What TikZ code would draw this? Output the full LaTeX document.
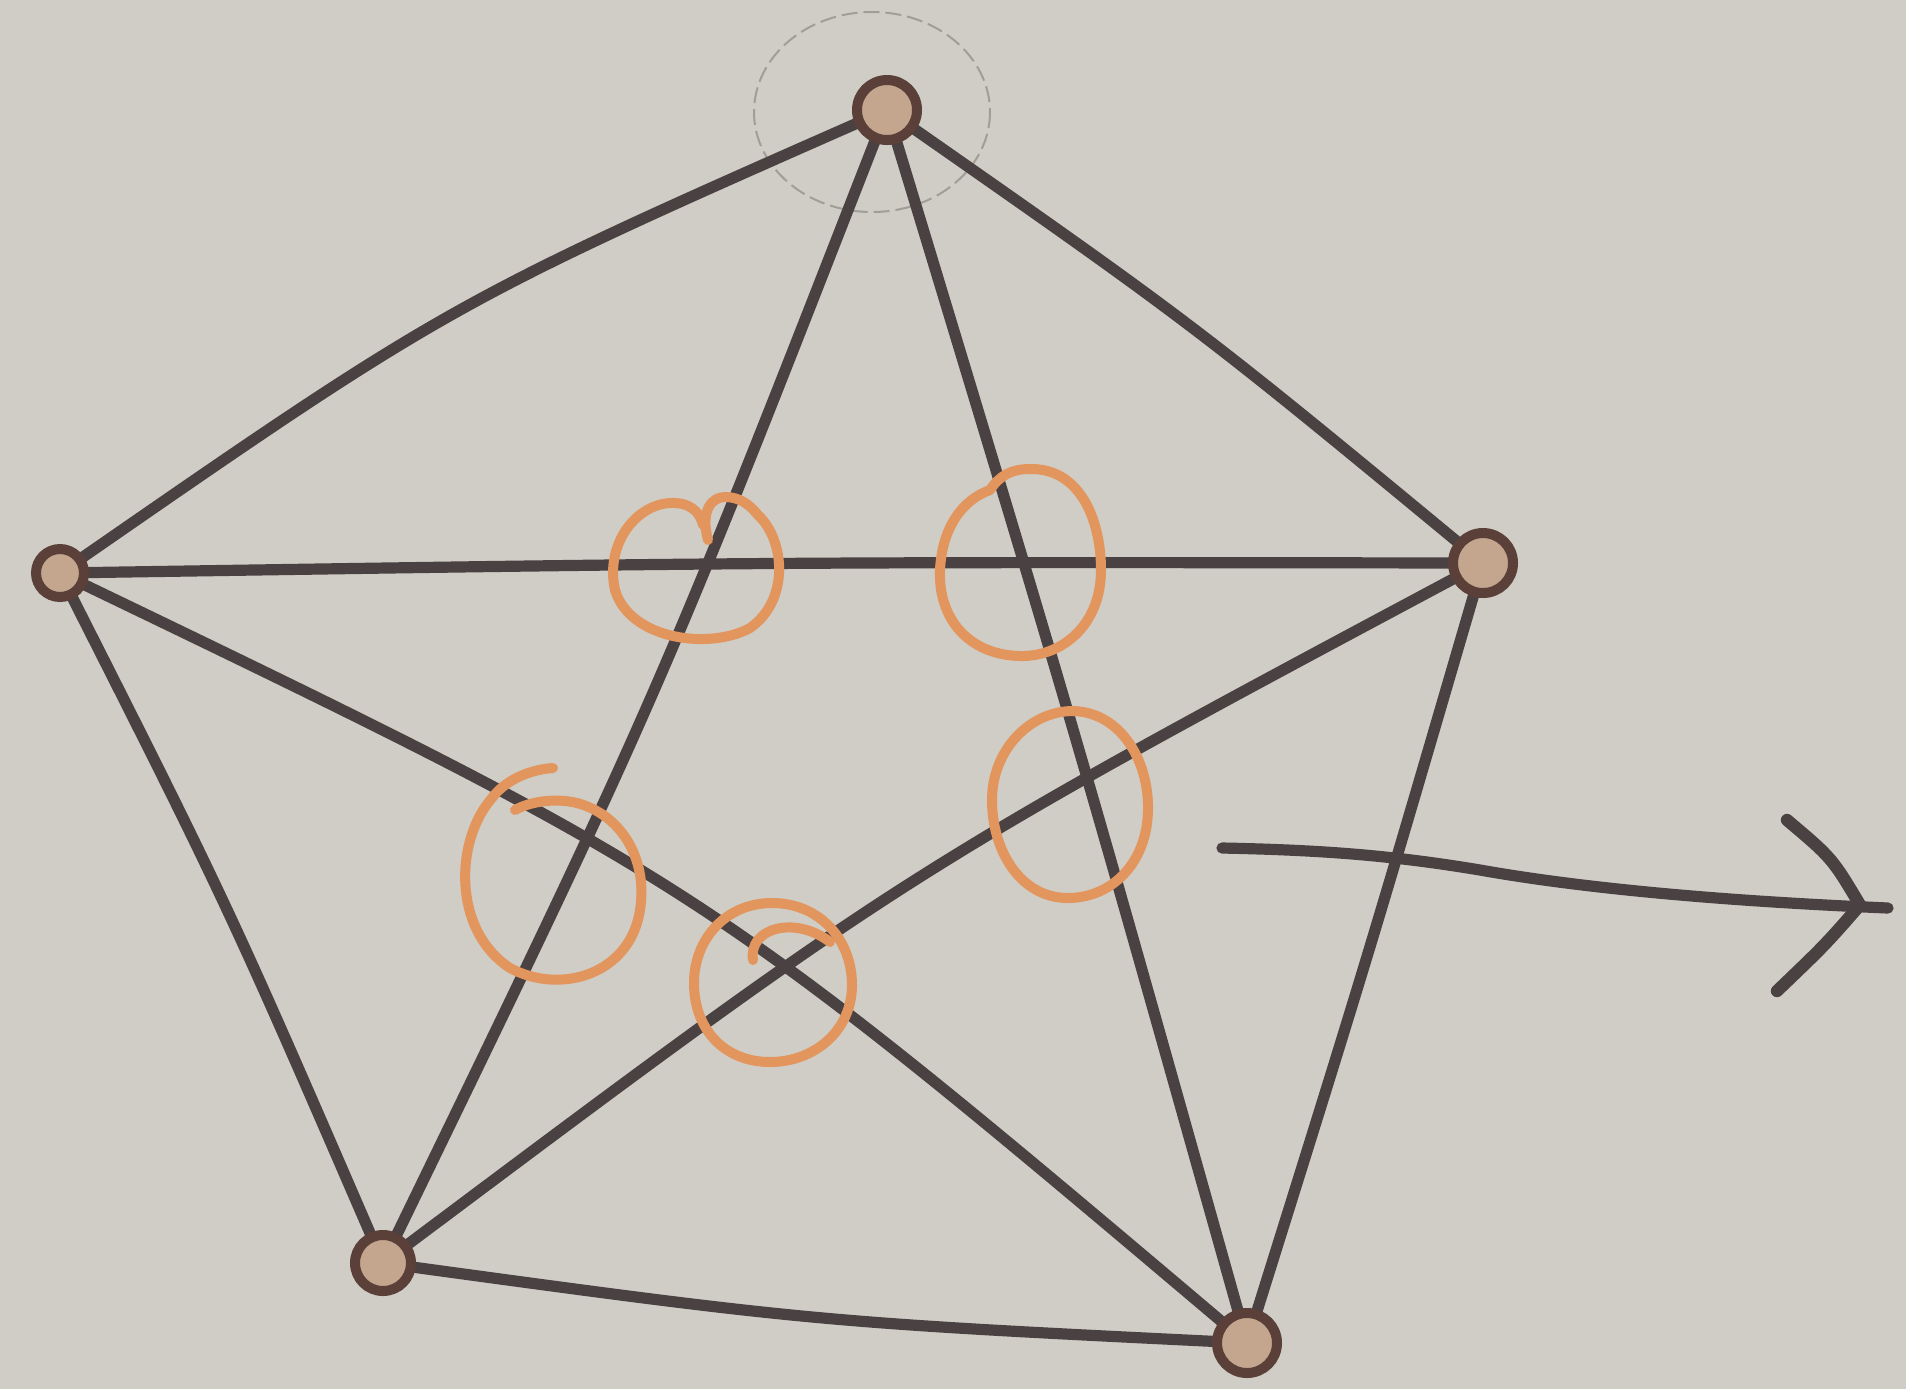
\documentclass[tikz,border=0pt]{standalone}
\definecolor{paper}{HTML}{CFCDC5}
\definecolor{ink}{HTML}{4A4143}
\definecolor{inkb}{HTML}{5A4038}
\definecolor{orng}{HTML}{E3955E}
\definecolor{pencil}{HTML}{A09E97}
\tikzset{
  edge/.style={draw=ink, line width=5.6pt, line cap=round, line join=round},
  vert/.style={circle, draw=inkb, line width=5pt, fill=paper!60!orng!85!inkb, inner sep=0pt},
  ring/.style={draw=orng, line width=5pt, line cap=round, line join=round},
}
\begin{document}
\begin{tikzpicture}[x=0.5pt,y=-0.5pt]
\fill[paper] (0,0) rectangle (1906,1389);
\useasboundingbox (0,0) rectangle (1906,1389);
% faint pencil circle round the top vertex
\draw[pencil, line width=1pt, dash pattern=on 8pt off 3pt] (872,112) ellipse [x radius=118, y radius=100];
% vertex positions
\coordinate (T) at (887,110);
\coordinate (L) at (60,573);
\coordinate (R) at (1483,563);
\coordinate (BL) at (383,1263);
\coordinate (BR) at (1247,1343);
% outer pentagon
\draw[edge] (T) .. controls (451,302) .. (L);
\draw[edge] (L) .. controls (228,905) .. (BL);
\draw[edge] (BL) .. controls (815,1322) .. (BR);
\draw[edge] (BR) .. controls (1370,950) .. (R);
\draw[edge] (R) .. controls (1195,325) .. (T);
% star
\draw[edge] (T) .. controls (658,697) .. (BL);
\draw[edge] (T) .. controls (1072,720) .. (BR);
\draw[edge] (L) .. controls (770,562) .. (R);
\draw[edge] (L) .. controls (702,882) .. (BR);
\draw[edge] (BL) .. controls (906,871) .. (R);
% orange rings at the inner crossings
\draw[ring] (708,540) .. controls (700,510) and (712,497) .. (725,497)
  .. controls (740,497) and (750,505) .. (758,515)
  .. controls (785,540) and (790,600) .. (750,628)
  .. controls (710,650) and (630,640) .. (615,590)
  .. controls (605,545) and (635,505) .. (670,503)
  .. controls (690,502) and (700,512) .. (703,525);
\draw[ring] (1030,469) .. controls (1080,468) and (1101,520) .. (1101,570)
  .. controls (1101,625) and (1062,657) .. (1020,656)
  .. controls (970,655) and (938,620) .. (940,570)
  .. controls (942,528) and (962,500) .. (990,490)
  .. controls (1000,475) and (1012,469) .. (1030,469);
\draw[ring] (1073,711) .. controls (1120,712) and (1149,760) .. (1148,810)
  .. controls (1147,865) and (1110,898) .. (1068,898)
  .. controls (1020,898) and (992,850) .. (992,800)
  .. controls (992,750) and (1030,711) .. (1073,711);
\draw[ring] (553,768) .. controls (525,770) and (503,783) .. (492,798)
  .. controls (455,840) and (452,930) .. (510,968)
  .. controls (560,995) and (630,975) .. (640,910)
  .. controls (648,860) and (622,815) .. (577,803)
  .. controls (552,797) and (527,803) .. (515,810);
\draw[ring] (772,903) .. controls (820,903) and (852,940) .. (852,985)
  .. controls (852,1030) and (815,1062) .. (770,1062)
  .. controls (725,1062) and (694,1030) .. (694,983)
  .. controls (694,940) and (725,903) .. (772,903);
\draw[ring] (753,960) .. controls (748,928) and (795,915) .. (830,942);
% vertices
\node[vert, minimum size=30pt] (nT) at (T) {};
\node[vert, minimum size=24pt] (nL) at (L) {};
\node[vert, minimum size=30pt] (nR) at (R) {};
\node[vert, minimum size=28pt] (nBL) at (BL) {};
\node[vert, minimum size=30pt] (nBR) at (BR) {};
% arrow
\coordinate (a0) at (1222,848);
\coordinate (a1) at (1888,908);
\coordinate (b0) at (1860,905);
\coordinate (b1) at (1787,820);
\coordinate (b2) at (1777,991);
\draw[edge] (a0) .. controls (1320,850) and (1390,855) .. (1480,870)
  .. controls (1570,886) and (1700,900) .. (a1);
\draw[edge, line width=6.2pt] (b1) .. controls (1832,858) .. (b0);
\draw[edge, line width=6.2pt] (b2) .. controls (1825,945) .. (b0);
\end{tikzpicture}
\end{document}
